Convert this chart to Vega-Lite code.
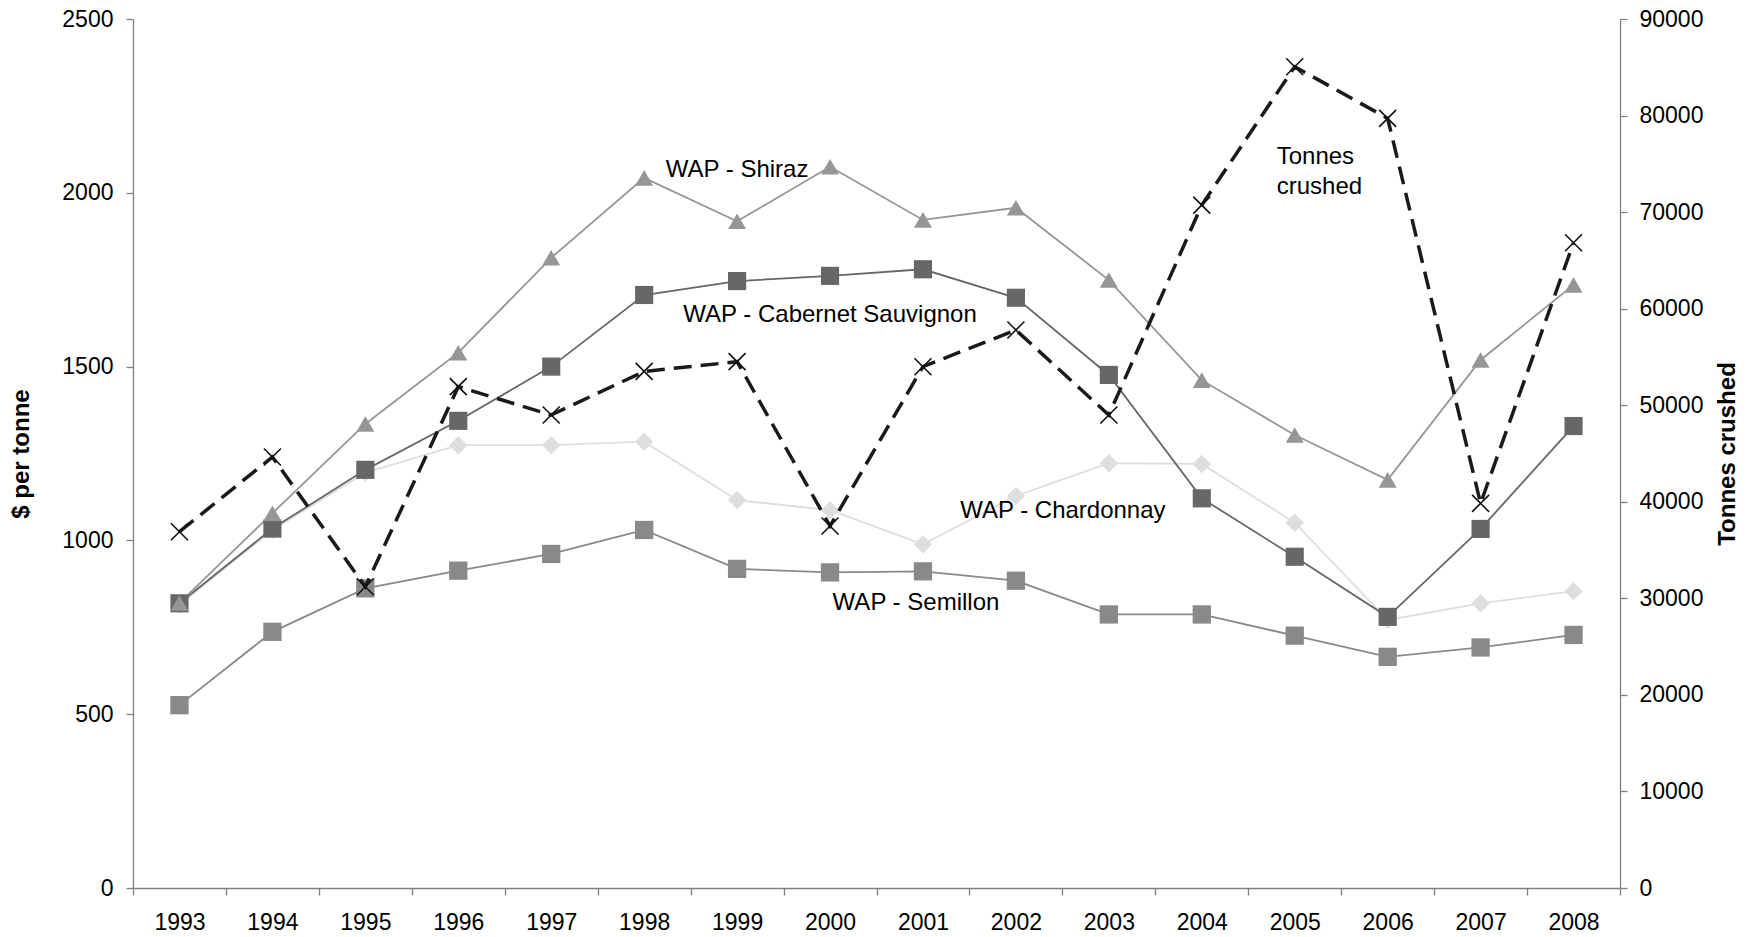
{
  "$schema": "https://vega.github.io/schema/vega-lite/v6.json",
  "width": 1487,
  "height": 869,
  "autosize": {"type": "none"},
  "padding": {"left": 133, "top": 19, "right": 134, "bottom": 49},
  "background": "white",
  "config": {
    "font": "Liberation Sans",
    "view": {"stroke": null},
    "axis": {
      "domainColor": "#808080",
      "tickColor": "#808080",
      "domainWidth": 1.3,
      "tickWidth": 1.3,
      "labelColor": "#000000",
      "titleColor": "#000000",
      "labelFont": "Liberation Sans",
      "titleFont": "Liberation Sans",
      "labelFontSize": 23,
      "titleFontSize": 24,
      "titleFontWeight": "bold",
      "tickSize": 7,
      "grid": false
    }
  },
  "datasets": {
    "prices": [
      {"year": 1993, "variety": "WAP - Chardonnay", "price": 815},
      {"year": 1994, "variety": "WAP - Chardonnay", "price": 1030},
      {"year": 1995, "variety": "WAP - Chardonnay", "price": 1195},
      {"year": 1996, "variety": "WAP - Chardonnay", "price": 1274},
      {"year": 1997, "variety": "WAP - Chardonnay", "price": 1274},
      {"year": 1998, "variety": "WAP - Chardonnay", "price": 1284},
      {"year": 1999, "variety": "WAP - Chardonnay", "price": 1116},
      {"year": 2000, "variety": "WAP - Chardonnay", "price": 1087},
      {"year": 2001, "variety": "WAP - Chardonnay", "price": 989},
      {"year": 2002, "variety": "WAP - Chardonnay", "price": 1128},
      {"year": 2003, "variety": "WAP - Chardonnay", "price": 1222},
      {"year": 2004, "variety": "WAP - Chardonnay", "price": 1220},
      {"year": 2005, "variety": "WAP - Chardonnay", "price": 1051},
      {"year": 2006, "variety": "WAP - Chardonnay", "price": 771},
      {"year": 2007, "variety": "WAP - Chardonnay", "price": 819},
      {"year": 2008, "variety": "WAP - Chardonnay", "price": 854},
      {"year": 1993, "variety": "WAP - Semillon", "price": 526},
      {"year": 1994, "variety": "WAP - Semillon", "price": 737},
      {"year": 1995, "variety": "WAP - Semillon", "price": 862},
      {"year": 1996, "variety": "WAP - Semillon", "price": 913},
      {"year": 1997, "variety": "WAP - Semillon", "price": 961},
      {"year": 1998, "variety": "WAP - Semillon", "price": 1030},
      {"year": 1999, "variety": "WAP - Semillon", "price": 918},
      {"year": 2000, "variety": "WAP - Semillon", "price": 908},
      {"year": 2001, "variety": "WAP - Semillon", "price": 911},
      {"year": 2002, "variety": "WAP - Semillon", "price": 884},
      {"year": 2003, "variety": "WAP - Semillon", "price": 787},
      {"year": 2004, "variety": "WAP - Semillon", "price": 787},
      {"year": 2005, "variety": "WAP - Semillon", "price": 726},
      {"year": 2006, "variety": "WAP - Semillon", "price": 665},
      {"year": 2007, "variety": "WAP - Semillon", "price": 692},
      {"year": 2008, "variety": "WAP - Semillon", "price": 728},
      {"year": 1993, "variety": "WAP - Cabernet Sauvignon", "price": 819},
      {"year": 1994, "variety": "WAP - Cabernet Sauvignon", "price": 1034},
      {"year": 1995, "variety": "WAP - Cabernet Sauvignon", "price": 1203},
      {"year": 1996, "variety": "WAP - Cabernet Sauvignon", "price": 1344},
      {"year": 1997, "variety": "WAP - Cabernet Sauvignon", "price": 1500},
      {"year": 1998, "variety": "WAP - Cabernet Sauvignon", "price": 1706},
      {"year": 1999, "variety": "WAP - Cabernet Sauvignon", "price": 1746},
      {"year": 2000, "variety": "WAP - Cabernet Sauvignon", "price": 1761},
      {"year": 2001, "variety": "WAP - Cabernet Sauvignon", "price": 1780},
      {"year": 2002, "variety": "WAP - Cabernet Sauvignon", "price": 1698},
      {"year": 2003, "variety": "WAP - Cabernet Sauvignon", "price": 1476},
      {"year": 2004, "variety": "WAP - Cabernet Sauvignon", "price": 1121},
      {"year": 2005, "variety": "WAP - Cabernet Sauvignon", "price": 953},
      {"year": 2006, "variety": "WAP - Cabernet Sauvignon", "price": 780},
      {"year": 2007, "variety": "WAP - Cabernet Sauvignon", "price": 1033},
      {"year": 2008, "variety": "WAP - Cabernet Sauvignon", "price": 1329},
      {"year": 1993, "variety": "WAP - Shiraz", "price": 820},
      {"year": 1994, "variety": "WAP - Shiraz", "price": 1078},
      {"year": 1995, "variety": "WAP - Shiraz", "price": 1335},
      {"year": 1996, "variety": "WAP - Shiraz", "price": 1540},
      {"year": 1997, "variety": "WAP - Shiraz", "price": 1813},
      {"year": 1998, "variety": "WAP - Shiraz", "price": 2043},
      {"year": 1999, "variety": "WAP - Shiraz", "price": 1918},
      {"year": 2000, "variety": "WAP - Shiraz", "price": 2075},
      {"year": 2001, "variety": "WAP - Shiraz", "price": 1922},
      {"year": 2002, "variety": "WAP - Shiraz", "price": 1957},
      {"year": 2003, "variety": "WAP - Shiraz", "price": 1749},
      {"year": 2004, "variety": "WAP - Shiraz", "price": 1461},
      {"year": 2005, "variety": "WAP - Shiraz", "price": 1303},
      {"year": 2006, "variety": "WAP - Shiraz", "price": 1174},
      {"year": 2007, "variety": "WAP - Shiraz", "price": 1519},
      {"year": 2008, "variety": "WAP - Shiraz", "price": 1735}
    ],
    "tonnes": [
      {"year": 1993, "tonnes": 36900},
      {"year": 1994, "tonnes": 44640},
      {"year": 1995, "tonnes": 31200},
      {"year": 1996, "tonnes": 51920},
      {"year": 1997, "tonnes": 48990},
      {"year": 1998, "tonnes": 53500},
      {"year": 1999, "tonnes": 54510},
      {"year": 2000, "tonnes": 37490},
      {"year": 2001, "tonnes": 53990},
      {"year": 2002, "tonnes": 57790},
      {"year": 2003, "tonnes": 48990},
      {"year": 2004, "tonnes": 70730},
      {"year": 2005, "tonnes": 85060},
      {"year": 2006, "tonnes": 79710},
      {"year": 2007, "tonnes": 39840},
      {"year": 2008, "tonnes": 66830}
    ],
    "labelsCenter": [
      {"year": 1999, "value": 2066, "label": "WAP - Shiraz"},
      {"year": 2000, "value": 1648, "label": "WAP - Cabernet Sauvignon"}
    ],
    "labelChardonnay": [
      {"year": 2003, "value": 1085, "label": "WAP - Chardonnay"}
    ],
    "labelSemillon": [
      {"year": 2001, "value": 820, "label": "WAP - Semillon"}
    ],
    "labelTonnes": [
      {"year": 2005, "value": 2104, "label": "Tonnes"},
      {"year": 2005, "value": 2018, "label": "crushed"}
    ]
  },
  "encoding": {
    "x": {
      "field": "year",
      "type": "ordinal",
      "bandPosition": 0.5,
      "scale": {"type": "band", "paddingInner": 0, "paddingOuter": 0},
      "axis": {"title": null, "labelAngle": 0, "tickBand": "extent", "labelPadding": 16}
    }
  },
  "layer": [
    {
      "layer": [
        {
          "data": {"name": "prices"},
          "mark": {"type": "line", "strokeWidth": 1.8},
          "encoding": {
            "y": {
              "field": "price",
              "type": "quantitative",
              "scale": {"domain": [0, 2500], "nice": false, "zero": false},
              "axis": {
                "title": "$ per tonne",
                "values": [0, 500, 1000, 1500, 2000, 2500],
                "format": "d",
                "labelPadding": 13,
                "titlePadding": 28
              }
            },
            "color": {
              "field": "variety",
              "type": "nominal",
              "scale": {
                "domain": ["WAP - Chardonnay", "WAP - Semillon", "WAP - Cabernet Sauvignon", "WAP - Shiraz"],
                "range": ["#dedede", "#898989", "#676767", "#969696"]
              },
              "legend": null
            }
          }
        },
        {
          "data": {"name": "prices"},
          "mark": {"type": "point", "filled": true, "opacity": 1},
          "encoding": {
            "y": {"field": "price", "type": "quantitative", "scale": {"domain": [0, 2500], "nice": false, "zero": false}},
            "color": {"field": "variety", "type": "nominal", "legend": null},
            "shape": {
              "field": "variety",
              "type": "nominal",
              "scale": {
                "domain": ["WAP - Chardonnay", "WAP - Semillon", "WAP - Cabernet Sauvignon", "WAP - Shiraz"],
                "range": ["diamond", "square", "square", "triangle-up"]
              },
              "legend": null
            },
            "size": {
              "field": "variety",
              "type": "nominal",
              "scale": {
                "domain": ["WAP - Chardonnay", "WAP - Semillon", "WAP - Cabernet Sauvignon", "WAP - Shiraz"],
                "range": [340, 324, 361, 400]
              },
              "legend": null
            }
          }
        },
        {
          "data": {"name": "labelsCenter"},
          "mark": {"type": "text", "fontSize": 24, "align": "center", "baseline": "middle", "color": "#000000"},
          "encoding": {
            "y": {"field": "value", "type": "quantitative", "scale": {"domain": [0, 2500], "nice": false, "zero": false}},
            "text": {"field": "label"}
          }
        },
        {
          "data": {"name": "labelChardonnay"},
          "mark": {"type": "text", "fontSize": 24, "align": "center", "baseline": "middle", "dx": -46, "color": "#000000"},
          "encoding": {
            "y": {"field": "value", "type": "quantitative", "scale": {"domain": [0, 2500], "nice": false, "zero": false}},
            "text": {"field": "label"}
          }
        },
        {
          "data": {"name": "labelSemillon"},
          "mark": {"type": "text", "fontSize": 24, "align": "center", "baseline": "middle", "dx": -7, "color": "#000000"},
          "encoding": {
            "y": {"field": "value", "type": "quantitative", "scale": {"domain": [0, 2500], "nice": false, "zero": false}},
            "text": {"field": "label"}
          }
        },
        {
          "data": {"name": "labelTonnes"},
          "mark": {"type": "text", "fontSize": 24, "align": "left", "baseline": "middle", "dx": -18, "color": "#000000"},
          "encoding": {
            "y": {"field": "value", "type": "quantitative", "scale": {"domain": [0, 2500], "nice": false, "zero": false}},
            "text": {"field": "label"}
          }
        }
      ]
    },
    {
      "data": {"name": "tonnes"},
      "layer": [
        {
          "mark": {"type": "line", "color": "#1a1a1a", "strokeWidth": 3.5, "strokeDash": [18, 9], "strokeCap": "butt"},
          "encoding": {
            "y": {
              "field": "tonnes",
              "type": "quantitative",
              "scale": {"domain": [0, 90000], "nice": false, "zero": false},
              "axis": {
                "orient": "right",
                "title": "Tonnes crushed",
                "titleAngle": -90,
                "values": [0, 10000, 20000, 30000, 40000, 50000, 60000, 70000, 80000, 90000],
                "format": "d",
                "labelPadding": 12,
                "titlePadding": 37
              }
            }
          }
        },
        {
          "mark": {"type": "point", "shape": "M-1,-1L1,1M-1,1L1,-1", "filled": false, "stroke": "#111111", "strokeWidth": 1.6, "size": 289, "opacity": 1},
          "encoding": {
            "y": {"field": "tonnes", "type": "quantitative", "scale": {"domain": [0, 90000], "nice": false, "zero": false}}
          }
        }
      ]
    }
  ],
  "resolve": {"scale": {"y": "independent"}}
}
